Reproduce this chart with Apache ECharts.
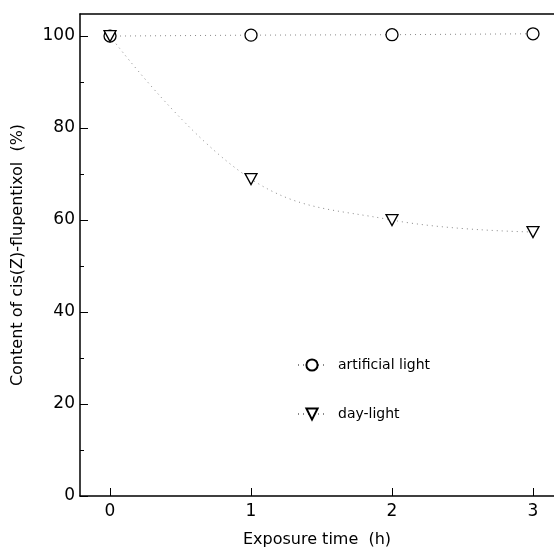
<!DOCTYPE html>
<html><head><meta charset="utf-8">
<script src="https://cdn.jsdelivr.net/npm/echarts@6/dist/echarts.min.js"></script>
<style>html,body{margin:0;padding:0;background:#fff}#c{width:554px;height:558px}</style>
</head><body><div id="c"></div>
<script>
const times = [0, 1, 2, 3];
const artificialLight = [100.0, 100.2, 100.3, 100.5];
const dayLight = [100.0, 68.9, 60.0, 57.4];
const xTickValues = [0, 1, 2, 3];
const yTickValues = [0, 20, 40, 60, 80, 100];
const yMinorTickValues = [10, 30, 50, 70, 90];
const seriesNames = ['artificial light', 'day-light'];

const font = '"DejaVu Sans", "Liberation Sans", Arial, sans-serif';
const chart = echarts.init(document.getElementById('c'), null, {renderer: 'canvas'});
const downTri = 'path://M0,0 L10,0 L5,9 Z';
const X_MIN = -0.213, X_MAX = 3.149, Y_MAX = 104.8;
chart.setOption({
  animation: false,
  backgroundColor: '#fff',
  grid: {left: 80, top: 14, right: 0, bottom: 62, show: false},
  legend: {
    orient: 'vertical', left: 297, top: 358, padding: 0, itemGap: 35, itemWidth: 28, itemHeight: 14,
    textStyle: {fontFamily: font, fontSize: 14, color: '#000', padding: [0, 0, 0, 7]},
    data: seriesNames
  },
  xAxis: [{
    type: 'value', min: X_MIN, max: X_MAX,
    name: 'Exposure time  (h)', nameLocation: 'middle', nameGap: 36,
    nameTextStyle: {fontFamily: font, fontSize: 16, color: '#000'},
    axisLine: {show: true, onZero: false, lineStyle: {color: '#000', width: 1.5}},
    axisTick: {show: true, inside: true, length: 8, lineStyle: {color: '#000'}, customValues: xTickValues},
    axisLabel: {fontFamily: font, fontSize: 17, color: '#000', margin: 7, customValues: xTickValues},
    splitLine: {show: false}
  }, {
    type: 'value', min: X_MIN, max: X_MAX, position: 'top',
    axisLine: {show: true, onZero: false, lineStyle: {color: '#000', width: 1.5}},
    axisTick: {show: false}, axisLabel: {show: false}, splitLine: {show: false}
  }],
  yAxis: [{
    type: 'value', min: 0, max: Y_MAX,
    name: 'Content of cis(Z)-flupentixol  (%)', nameLocation: 'middle', nameGap: 54,
    nameTextStyle: {fontFamily: font, fontSize: 16, color: '#000'},
    axisLine: {show: true, onZero: false, lineStyle: {color: '#000', width: 1.5}},
    axisTick: {show: true, inside: true, length: 8, lineStyle: {color: '#000'}, customValues: yTickValues},
    axisLabel: {fontFamily: font, fontSize: 17, color: '#000', margin: 5, customValues: yTickValues},
    splitLine: {show: false}
  }, {
    type: 'value', min: 0, max: Y_MAX, position: 'left',
    axisLine: {show: false, onZero: false},
    axisTick: {show: true, inside: true, length: 4, lineStyle: {color: '#000'}, customValues: yMinorTickValues},
    axisLabel: {show: false},
    splitLine: {show: false}
  }],
  series: [{
    name: seriesNames[0], type: 'line',
    data: times.map((t, i) => [t, artificialLight[i]]),
    symbol: 'circle', symbolSize: 12,
    itemStyle: {color: '#fff', borderColor: '#000', borderWidth: 1.3},
    lineStyle: {color: '#888', width: 1, type: [1, 4]}
  }, {
    name: seriesNames[1], type: 'line', smooth: 0.4,
    data: times.map((t, i) => [t, dayLight[i]]),
    symbol: downTri, symbolSize: [12, 11],
    itemStyle: {color: '#fff', borderColor: '#000', borderWidth: 1.3},
    lineStyle: {color: '#888', width: 1, type: [1, 4]}
  }]
});
</script></body></html>
